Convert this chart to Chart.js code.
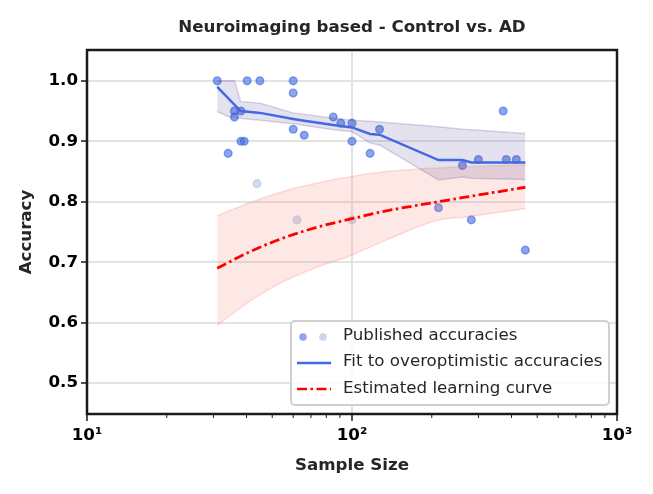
<!DOCTYPE html>
<html>
<head>
<meta charset="utf-8">
<script src="https://cdn.jsdelivr.net/npm/chart.js@4/dist/chart.umd.min.js"></script>
<style>
  body{margin:0;background:#fff;}
  #wrap{width:653px;height:494px;}
</style>
</head>
<body>
<div id="wrap"><canvas id="chart" width="653" height="494"></canvas></div>
<script>
// published accuracies (dark = overoptimistic, light = the rest)
const pubX = [31, 40.2, 44.9, 60, 60, 36, 38.1, 36, 38.1, 39.2, 34.1, 60, 66, 85, 90.7, 100, 100, 117, 127, 372, 261, 300, 382, 417, 212, 282, 451];
const pubY = [1.0, 1.0, 1.0, 1.0, 0.98, 0.95, 0.95, 0.94, 0.90, 0.90, 0.88, 0.92, 0.91, 0.94, 0.93, 0.93, 0.90, 0.88, 0.92, 0.95, 0.86, 0.87, 0.87, 0.87, 0.79, 0.77, 0.72];
const otherX = [43.8, 62, 100];
const otherY = [0.83, 0.77, 0.77];

// fit to overoptimistic accuracies
const fitX = [31, 38, 45, 60, 66, 85, 100, 117, 127, 212, 261, 282, 451];
const fitY = [0.99, 0.950, 0.947, 0.937, 0.934, 0.927, 0.923, 0.912, 0.911, 0.869, 0.869, 0.865, 0.865];
const fitBandX = [31, 34, 36, 38, 40, 45, 60, 85, 100, 117, 127, 212, 261, 282, 451];
const fitHi = [1.0, 1.0, 1.0, 0.966, 0.965, 0.963, 0.947, 0.938, 0.935, 0.933, 0.932, 0.924, 0.920, 0.919, 0.913];
const fitLo = [0.949, 0.941, 0.939, 0.938, 0.937, 0.935, 0.929, 0.919, 0.916, 0.897, 0.894, 0.836, 0.841, 0.839, 0.837];

// estimated learning curve
const curveX = [31, 41, 55, 74, 100, 135, 212, 271, 451];
const curveY = [0.690, 0.717, 0.740, 0.758, 0.772, 0.785, 0.800, 0.808, 0.824];
const curveHi = [0.777, 0.798, 0.817, 0.831, 0.842, 0.850, 0.856, 0.858, 0.861];
const curveLo = [0.596, 0.635, 0.668, 0.692, 0.712, 0.737, 0.770, 0.775, 0.789];

const yTicks = [0.5, 0.6, 0.7, 0.8, 0.9, 1.0];
const xTicks = [10, 100, 1000];
const xTickLabels = ["10\u00b9", "10\u00b2", "10\u00b3"];
const xMinor = [20, 30, 40, 50, 60, 70, 80, 90, 200, 300, 400, 500, 600, 700, 800, 900];
const titleText = "Neuroimaging based - Control vs. AD";

const FONT = "'DejaVu Sans', sans-serif";
const FS = 16.67;
const DASHDOT = [10, 3.5, 2.5, 3.5];
const pts = (xs, ys) => xs.map((x, i) => ({x: x, y: ys[i]}));

const frame = {
  id: "frame",
  afterDraw(chart){
    const c = chart.ctx, a = chart.chartArea, xs = chart.scales.x;
    c.save();
    c.strokeStyle = "#1a1a1a";
    c.lineWidth = 1;
    xMinor.forEach(v => { //small ticks of the log axis
      const px = xs.getPixelForValue(v);
      c.beginPath(); c.moveTo(px, a.bottom); c.lineTo(px, a.bottom + 4); c.stroke();
    });
    c.lineWidth = 2.5;
    c.strokeRect(a.left, a.top, a.right - a.left, a.bottom - a.top);
    // title centred over the axes
    c.fillStyle = "#262626";
    c.font = "bold " + FS + "px " + FONT;
    c.textAlign = "center";
    c.textBaseline = "middle";
    c.fillText(titleText, (a.left + a.right) / 2, 28);
    c.restore();
  }
};

// legend drawn inside the plot, lower right
const innerLegend = {
  id: "innerLegend",
  afterDraw(chart){
    const c = chart.ctx;
    const bx = 291, by = 321, bw = 318, bh = 84;
    c.save();
    c.fillStyle = "rgba(255,255,255,0.85)";
    c.strokeStyle = "#d0d0d0";
    c.lineWidth = 2;
    c.beginPath();
    c.roundRect(bx, by, bw, bh, 4);
    c.fill(); c.stroke();

    c.fillStyle = "rgba(65,105,225,0.6)";
    c.beginPath(); c.arc(303, 337, 3.8, 0, Math.PI * 2); c.fill();
    c.fillStyle = "rgba(176,196,222,0.7)";
    c.beginPath(); c.arc(323, 337, 3.8, 0, Math.PI * 2); c.fill();

    c.lineWidth = 2.5;
    c.strokeStyle = "royalblue";
    c.beginPath(); c.moveTo(297, 363); c.lineTo(331, 363); c.stroke();
    c.strokeStyle = "red";
    c.setLineDash(DASHDOT);
    c.beginPath(); c.moveTo(297, 389); c.lineTo(331, 389); c.stroke();
    c.setLineDash([]);

    c.fillStyle = "#262626";
    c.font = FS + "px " + FONT;
    c.textBaseline = "middle";
    c.fillText("Published accuracies", 343, 336);
    c.fillText("Fit to overoptimistic accuracies", 343, 362);
    c.fillText("Estimated learning curve", 343, 389);
    c.restore();
  }
};

new Chart(document.getElementById("chart").getContext("2d"), {
  type: "line",
  data: {
    datasets: [
      {data: pts(fitX, fitY), borderColor: "royalblue", borderWidth: 2.5, pointRadius: 0, fill: false, tension: 0, order: 1},
      {data: pts(curveX, curveY), borderColor: "red", borderWidth: 2.8, borderDash: DASHDOT, pointRadius: 0, fill: false, cubicInterpolationMode: "monotone", order: 2},
      {data: pts(fitBandX, fitHi), borderColor: "rgba(72,61,139,0.2)", borderWidth: 1.5, pointRadius: 0, fill: false, order: 3},
      {data: pts(fitBandX, fitLo), borderColor: "rgba(72,61,139,0.2)", borderWidth: 1.5, pointRadius: 0, fill: 2, backgroundColor: "rgba(72,61,139,0.15)", order: 4},
      {data: pts(curveX, curveHi), borderColor: "rgba(250,128,114,0.25)", borderWidth: 1.5, pointRadius: 0, fill: false, cubicInterpolationMode: "monotone", order: 5},
      {data: pts(curveX, curveLo), borderColor: "rgba(250,128,114,0.25)", borderWidth: 1.5, pointRadius: 0, fill: 4, backgroundColor: "rgba(250,128,114,0.18)", cubicInterpolationMode: "monotone", order: 6},
      {data: pts(pubX, pubY), showLine: false, pointRadius: 3.8, pointBorderWidth: 1.5, pointBackgroundColor: "rgba(65,105,225,0.6)", pointBorderColor: "rgba(65,105,225,0.6)", order: 8},
      {data: pts(otherX, otherY), showLine: false, pointRadius: 3.8, pointBorderWidth: 1.5, pointBackgroundColor: "rgba(176,196,222,0.6)", pointBorderColor: "rgba(176,196,222,0.6)", order: 7}
    ]
  },
  options: {
    responsive: false,
    animation: false,
    layout: {padding: {top: 50, right: 36, bottom: 0, left: 0}},
    plugins: {
      legend: {display: false},
      tooltip: {enabled: false},
      title: {display: false}
    },
    scales: {
      x: {
        type: "logarithmic",
        min: 10,
        max: 1000,
        afterBuildTicks: s => { s.ticks = xTicks.map(v => ({value: v})); },
        afterFit: s => { s.height = 80; },
        ticks: {
          color: "#000",
          font: {family: FONT, size: FS, weight: "bold"},
          padding: 5,
          maxRotation: 0,
          callback: (v, i) => xTickLabels[i]
        },
        grid: {color: "#e3e3e3", lineWidth: 2, tickColor: "#1a1a1a", tickLength: 7, tickWidth: 1.5},
        border: {display: false},
        title: {
          display: true,
          text: "Sample Size",
          color: "#262626",
          font: {family: FONT, size: FS, weight: "bold"},
          padding: {top: 0, bottom: 18}
        }
      },
      y: {
        min: 0.449,
        max: 1.051,
        afterBuildTicks: s => { s.ticks = yTicks.map(v => ({value: v})); },
        afterFit: s => { s.width = 87; },
        ticks: {
          color: "#000",
          font: {family: FONT, size: FS, weight: "bold"},
          padding: 3,
          callback: v => v.toFixed(1)
        },
        grid: {color: "#e3e3e3", lineWidth: 2, tickColor: "#1a1a1a", tickLength: 6, tickWidth: 1.5},
        border: {display: false},
        title: {
          display: true,
          text: "Accuracy",
          color: "#262626",
          font: {family: FONT, size: FS, weight: "bold"},
          padding: {top: 17, bottom: 0}
        }
      }
    }
  },
  plugins: [frame, innerLegend]
});
</script>
</body>
</html>
